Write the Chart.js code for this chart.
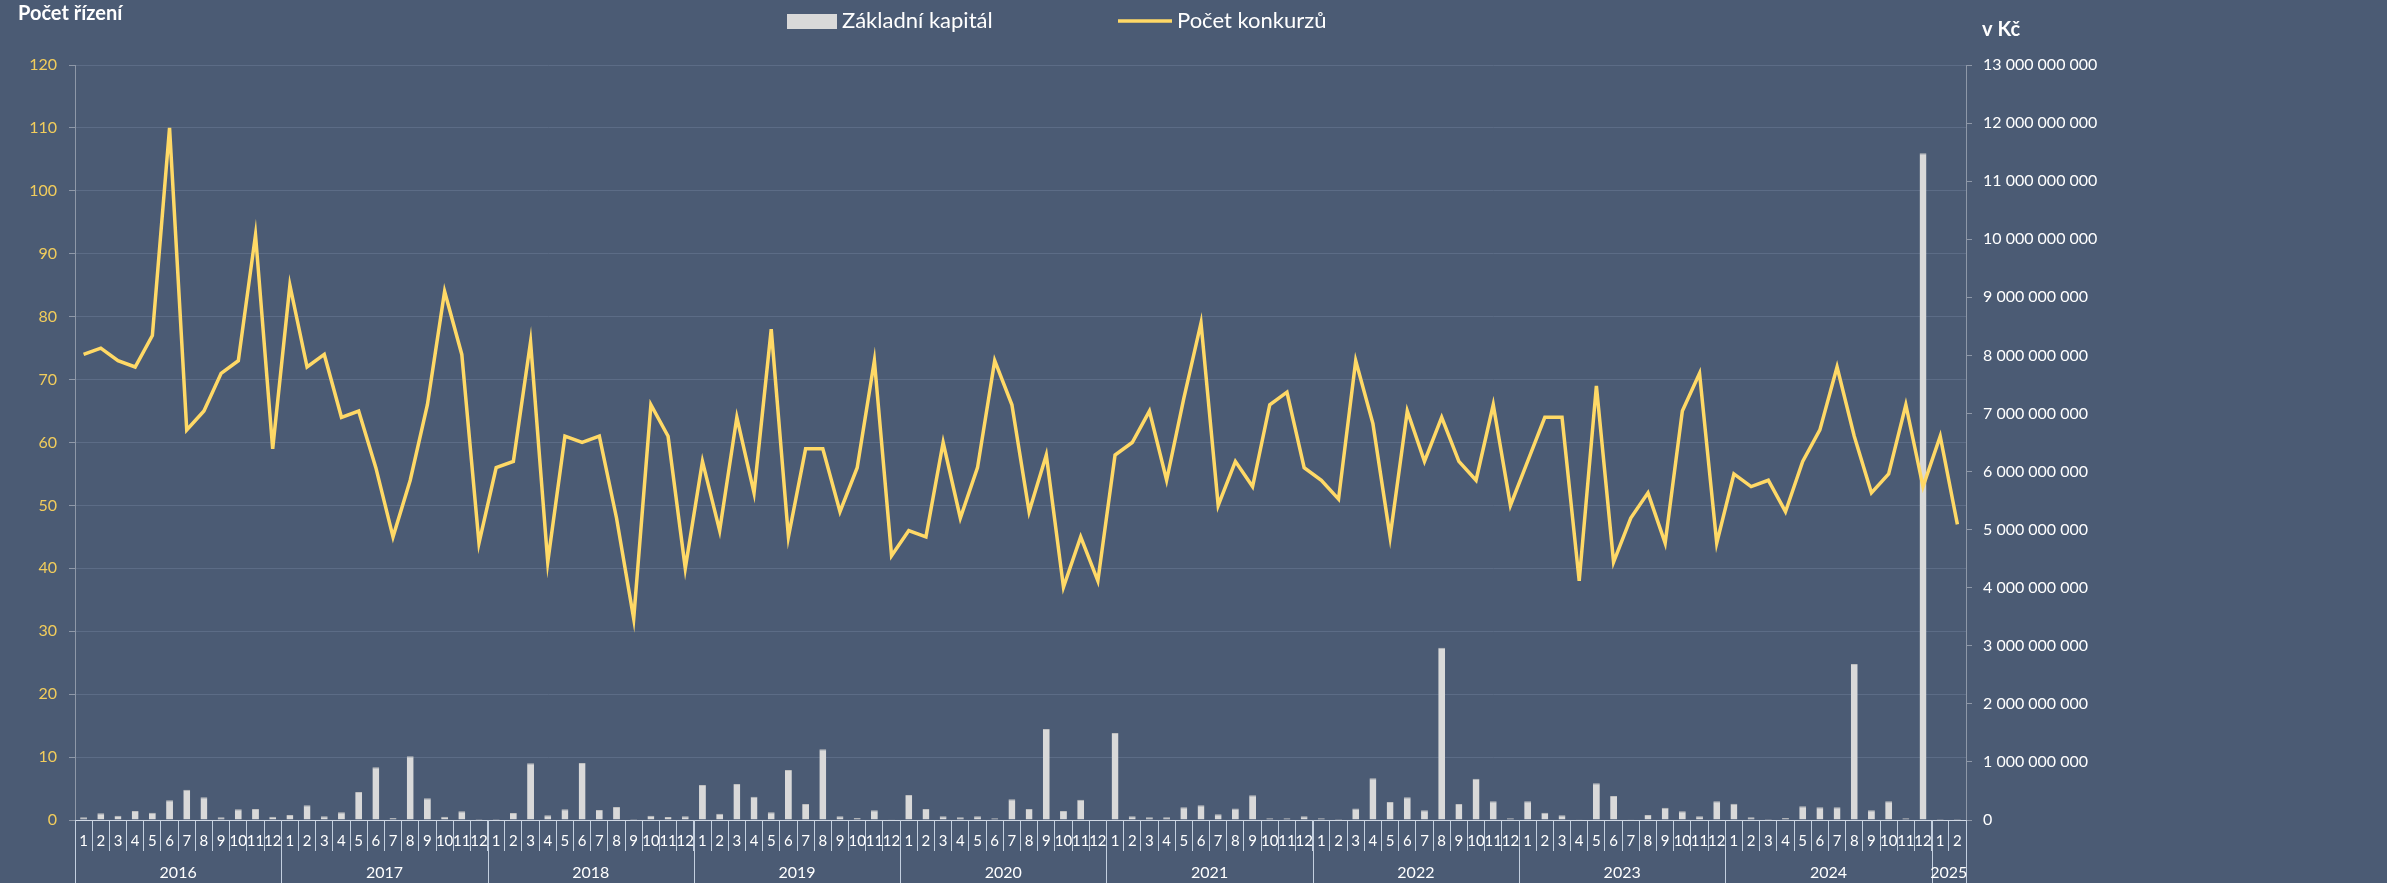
<!DOCTYPE html>
<html lang="cs">
<head>
<meta charset="utf-8">
<title>Počet konkurzů a základní kapitál</title>
<script src="https://cdn.jsdelivr.net/npm/chart.js@4/dist/chart.umd.min.js"></script>
<style>
  html, body { margin: 0; padding: 0; background: #4B5B74; }
  #wrap { width: 2387px; height: 883px; position: relative; }
</style>
</head>
<body>
<div id="wrap"><canvas id="graf"></canvas></div>
<script>
// Roky a počet měsíců v každém roce (2025 jen leden a únor)
const roky = ['2016', '2017', '2018', '2019', '2020', '2021', '2022', '2023', '2024', '2025'];
const mesicuVRoce = [12, 12, 12, 12, 12, 12, 12, 12, 12, 2];

// Počet konkurzů (levá osa, počet řízení)
const pocetKonkurzu = [
  74, 75, 73, 72, 77, 110, 62, 65, 71, 73, 93, 59,   // 2016
  85, 72, 74, 64, 65, 56, 45, 54, 66, 84, 74, 44,    // 2017
  56, 57, 76, 41, 61, 60, 61, 48, 32, 66, 61, 40,    // 2018
  57, 46, 64, 52, 78, 45, 59, 59, 49, 56, 73, 42,    // 2019
  46, 45, 60, 48, 56, 73, 66, 49, 58, 37, 45, 38,    // 2020
  58, 60, 65, 54, 67, 79, 50, 57, 53, 66, 68, 56,    // 2021
  54, 51, 73, 63, 45, 65, 57, 64, 57, 54, 66, 50,    // 2022
  57, 64, 64, 38, 69, 41, 48, 52, 44, 65, 71, 44,    // 2023
  55, 53, 54, 49, 57, 62, 72, 61, 52, 55, 66, 53,    // 2024
  61, 47                                             // 2025
];

// Základní kapitál v mil. Kč (pravá osa)
const kapitalMil = [
  46, 115, 75, 155, 126, 339, 522, 390, 46, 184, 190, 57,        // 2016
  86, 253, 63, 132, 482, 907, 34, 1096, 373, 57, 149, 17,        // 2017
  17, 120, 976, 80, 184, 980, 172, 224, 17, 75, 52, 63,          // 2018
  603, 109, 620, 402, 132, 861, 276, 1217, 63, 34, 166, 11,      // 2019
  430, 190, 63, 46, 63, 29, 356, 190, 1567, 155, 350, 10,        // 2020
  1498, 63, 46, 46, 218, 253, 98, 200, 425, 29, 29, 63,          // 2021
  29, 17, 200, 717, 310, 390, 166, 2968, 276, 712, 321, 29,      // 2022
  321, 126, 80, 11, 631, 413, 11, 86, 212, 149, 63, 321,         // 2023
  281, 46, 17, 34, 235, 218, 218, 2687, 166, 321, 29, 11480,     // 2024
  17, 17                                                         // 2025
];

const pismo = 'Lato, "Open Sans", "DejaVu Sans", sans-serif';
const barvaCary = '#FFD966';
const barvaSloupcu = '#D9D9D9';

// popisky osy x = čísla měsíců
const mesice = [];
mesicuVRoce.forEach(n => { for (let m = 1; m <= n; m++) mesice.push(String(m)); });

function mezery(v){
  return String(Math.round(v)).replace(/\B(?=(\d{3})+(?!\d))/g, ' ');
}

// roky pod měsíci + oddělovače + legenda + názvy os
const doplnky = {
  id: 'doplnky',
  afterDraw(chart) {
    const ctx = chart.ctx;
    const x = chart.scales.x;
    const dno = chart.height;
    const osaY = x.top;
    const krok = x.getPixelForValue(1) - x.getPixelForValue(0);

    ctx.save();
    ctx.strokeStyle = '#C3CFDF';
    ctx.lineWidth = 1;
    ctx.fillStyle = '#FFFFFF';
    ctx.font = '16px ' + pismo;
    ctx.textAlign = 'center';
    ctx.textBaseline = 'middle';
    let start = 0;
    roky.forEach((rok, i) => {
      const konec = start + mesicuVRoce[i] - 1;
      const levy = x.getPixelForValue(start) - krok / 2;
      const pravy = x.getPixelForValue(konec) + krok / 2;
      [levy, pravy].forEach(px => {
        ctx.beginPath();
        ctx.moveTo(Math.round(px) + 0.5, osaY);
        ctx.lineTo(Math.round(px) + 0.5, dno);
        ctx.stroke();
      });
      ctx.fillText(rok, (levy + pravy) / 2, 873);
      start = konec + 1;
    });

    // názvy os
    ctx.font = 'bold 20px ' + pismo;
    ctx.textAlign = 'left';
    ctx.textBaseline = 'top';
    ctx.fillText('Počet řízení', 18, 4);
    ctx.fillText('v Kč', 1982, 20);

    // legenda
    const ds = chart.data.datasets;
    const kapital = ds.find(d => d.type !== 'line');
    const cara = ds.find(d => d.type === 'line');
    ctx.font = '22px ' + pismo;
    ctx.textBaseline = 'middle';
    ctx.fillStyle = kapital.backgroundColor;
    ctx.fillRect(787, 14, 50, 15);
    ctx.fillStyle = '#FFFFFF';
    ctx.fillText(kapital.label, 842, 21);
    ctx.strokeStyle = cara.borderColor;
    ctx.lineWidth = 3.5;
    ctx.beginPath();
    ctx.moveTo(1118, 21);
    ctx.lineTo(1172, 21);
    ctx.stroke();
    ctx.fillText(cara.label, 1177, 21);
    ctx.restore();
  }
};

const graf = new Chart(document.getElementById('graf'), {
  type: 'bar',
  data: {
    labels: mesice,
    datasets: [
      {
        type: 'bar',
        label: 'Základní kapitál',
        data: kapitalMil.map(v => v * 1e6),
        yAxisID: 'y2',
        backgroundColor: barvaSloupcu,
        borderColor: '#BFBFBF',
        borderWidth: { top: 1, left: 0, right: 0, bottom: 0 },
        barPercentage: 0.4,
        categoryPercentage: 1,
        order: 2
      },
      {
        type: 'line',
        label: 'Počet konkurzů',
        data: pocetKonkurzu,
        yAxisID: 'y',
        borderColor: barvaCary,
        backgroundColor: barvaCary,
        borderWidth: 3.5,
        pointRadius: 0,
        tension: 0,
        order: 1
      }
    ]
  },
  options: {
    responsive: true,
    maintainAspectRatio: false,
    animation: false,
    layout: { padding: { top: 65, left: 0, right: 0, bottom: 0 } },
    plugins: {
      legend: { display: false },
      tooltip: { enabled: false }
    },
    scales: {
      x: {
        position: 'bottom',
        offset: true,
        border: { color: '#D0D8E4', width: 1 },
        grid: {
          offset: true,
          drawOnChartArea: false,
          drawTicks: true,
          tickLength: 31,
          tickColor: '#C3CFDF'
        },
        ticks: {
          autoSkip: false,
          maxRotation: 0,
          minRotation: 0,
          padding: -19,
          color: '#FFFFFF',
          font: { family: pismo, size: 15 }
        },
        afterFit: s => { s.height = 63; }
      },
      y: {
        position: 'left',
        min: 0,
        max: 120,
        ticks: {
          stepSize: 10,
          padding: 12,
          color: '#F2CD5C',
          font: { family: pismo, size: 16 }
        },
        grid: {
          color: '#5C6C86',
          tickColor: '#8E98A8',
          tickLength: 6
        },
        border: { color: '#8E98A8' },
        afterFit: s => { s.width = 75; }
      },
      y2: {
        position: 'right',
        min: 0,
        max: 13000000000,
        ticks: {
          stepSize: 1000000000,
          padding: 11,
          color: '#FFFFFF',
          font: { family: pismo, size: 16 },
          callback: v => mezery(v)
        },
        grid: {
          drawOnChartArea: false,
          tickColor: '#8E98A8',
          tickLength: 6
        },
        border: { color: '#8E98A8' },
        afterFit: s => { s.width = 421; }
      }
    }
  },
  plugins: [doplnky]
});
</script>
</body>
</html>
